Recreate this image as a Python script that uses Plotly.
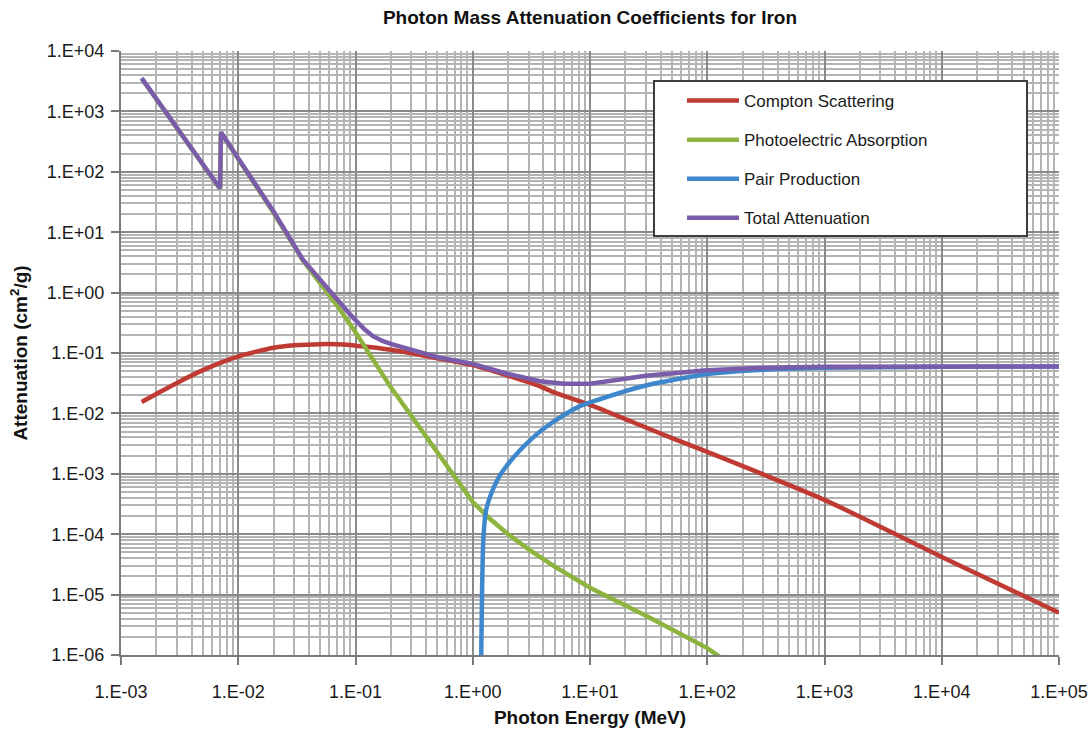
import plotly.graph_objects as go

# ---------------- data ----------------
compton_E = [0.0015, 0.002, 0.003, 0.005, 0.01, 0.02, 0.03, 0.05, 0.08, 0.1, 0.15,
             0.2, 0.3, 0.5, 1.0, 2.0, 3.75, 5.0, 10.0, 23.0, 50.0, 100.0, 1000.0, 1.0e4, 1.0e5]
compton_mu = [0.0155, 0.021, 0.032, 0.052, 0.088, 0.122, 0.134, 0.140, 0.138, 0.132, 0.122,
              0.113, 0.099, 0.082, 0.063, 0.042, 0.028, 0.022, 0.0138, 0.0072, 0.0039,
              0.0023, 3.7e-4, 4.2e-5, 5.0e-6]

photo_E = [0.0015, 0.003, 0.005, 0.007, 0.00712, 0.01, 0.02, 0.0356, 0.05, 0.074, 0.1,
           0.12, 0.141, 0.2, 0.275, 0.38, 0.526, 0.75, 1.0, 1.4, 2.0, 3.0, 5.0, 10.0,
           30.6, 100.0, 120.0, 150.0]
photo_mu = [3500, 530, 132, 52, 445, 162, 21, 3.4, 1.45, 0.52, 0.22,
            0.127, 0.076, 0.027, 0.0115, 0.0048, 0.0019, 7.5e-4, 3.4e-4, 1.8e-4, 1.0e-4,
            5.6e-5, 2.9e-5, 1.3e-5, 4.4e-6, 1.3e-6, 1.0e-6, 7.5e-7]

pair_E = [1.18, 1.2, 1.23, 1.3, 1.49, 1.71, 2.0, 2.53, 3.0, 3.75, 5.0, 8.2, 10.0,
          30.0, 100.0, 300.0, 1000.0, 1.0e4, 1.0e5]
pair_mu = [9e-7, 1.0e-5, 8.0e-5, 2.5e-4, 5.6e-4, 9.5e-4, 1.45e-3, 2.45e-3, 3.4e-3, 5.0e-3,
           7.5e-3, 0.0132, 0.0152, 0.029, 0.045, 0.053, 0.057, 0.059, 0.060]

total_E = [0.0015, 0.003, 0.005, 0.007, 0.00712, 0.01, 0.02, 0.0356, 0.05, 0.06, 0.074,
           0.087, 0.1, 0.12, 0.141, 0.17, 0.2, 0.3, 0.5, 1.0, 2.0, 3.75, 6.0, 10.0, 17.0,
           30.0, 100.0, 300.0, 1000.0, 1.0e4, 1.0e5]
total_mu = [3550, 540, 134, 53, 450, 165, 22, 3.5, 1.6, 1.05, 0.66,
            0.47, 0.35, 0.245, 0.19, 0.158, 0.142, 0.112, 0.085, 0.066, 0.045, 0.034,
            0.031, 0.031, 0.036, 0.042, 0.052, 0.057, 0.059, 0.060, 0.060]

x_ticks = [1e-3, 1e-2, 1e-1, 1e0, 1e1, 1e2, 1e3, 1e4, 1e5]
x_ticktext = ["1.E-03", "1.E-02", "1.E-01", "1.E+00", "1.E+01", "1.E+02", "1.E+03", "1.E+04", "1.E+05"]
y_ticks = [1e-6, 1e-5, 1e-4, 1e-3, 1e-2, 1e-1, 1e0, 1e1, 1e2, 1e3, 1e4]
y_ticktext = ["1.E-06", "1.E-05", "1.E-04", "1.E-03", "1.E-02", "1.E-01", "1.E+00",
              "1.E+01", "1.E+02", "1.E+03", "1.E+04"]

series_names = ["Compton Scattering", "Photoelectric Absorption", "Pair Production", "Total Attenuation"]
series_colors = ["#BF3A33", "#8DB43F", "#3E87CC", "#7A5CAA"]

FONT = "Liberation Sans, Arial, Helvetica, sans-serif"

fig = go.Figure()
data = [(compton_E, compton_mu, "spline"), (photo_E, photo_mu, "linear"),
        (pair_E, pair_mu, "spline"), (total_E, total_mu, "linear")]
for (xe, ym, shp), nm, col in zip(data, series_names, series_colors):
    line = dict(color=col, width=4.5, shape=shp)
    if shp == "spline":
        line["smoothing"] = 0.6
    fig.add_trace(go.Scatter(x=xe, y=ym, mode="lines", name=nm, legendgroup=nm, line=line))

minor_x = [k * 10.0 ** e for e in range(-3, 5) for k in range(2, 10)]
minor_y = [k * 10.0 ** e for e in range(-6, 4) for k in range(2, 10)]

axis_common = dict(
    type="log", showline=True, linecolor="#7a7a7a", linewidth=2,
    ticks="outside", ticklen=8, tickwidth=2, tickcolor="#7a7a7a",
    showgrid=True, gridcolor="#8a8a8a", gridwidth=2,
    zeroline=False, tickfont=dict(family=FONT, size=18, color="#1a1a1a"),
    title_font=dict(family=FONT, size=19, color="#111111"),
)

fig.update_xaxes(
    **axis_common, range=[-3, 5], tickmode="array", tickvals=x_ticks, ticktext=x_ticktext,
    minor=dict(tickmode="array", tickvals=minor_x, showgrid=True, gridcolor="#b4b4b4",
               gridwidth=1.8, ticks=""),
    title=dict(text="<b>Photon Energy (MeV)</b>", standoff=10),
    ticklabelstandoff=11, ticklabeloverflow="allow",
)
fig.update_yaxes(
    **axis_common, range=[-6, 4], tickmode="array", tickvals=y_ticks, ticktext=y_ticktext,
    minor=dict(tickmode="array", tickvals=minor_y, showgrid=True, gridcolor="#b4b4b4",
               gridwidth=1.8, ticks=""),
    title=dict(text="<b>Attenuation (cm<sup>2</sup>/g)</b>", standoff=14),
    ticklabelstandoff=3, ticklabeloverflow="allow",
)

fig.update_layout(
    width=1089, height=734,
    margin=dict(l=121, r=30, t=51, b=79, autoexpand=False),
    paper_bgcolor="white", plot_bgcolor="white",
    title=dict(text="<b>Photon Mass Attenuation Coefficients for Iron</b>",
               x=0.5, xref="paper", xanchor="center",
               y=1 - 17 / 734, yref="container", yanchor="middle",
               font=dict(family=FONT, size=19, color="#111111")),
    legend=dict(
        x=(682 - 121) / 938, y=(655 - 83) / 604, xanchor="left", yanchor="top",
        bgcolor="rgba(0,0,0,0)", borderwidth=0,
        font=dict(family=FONT, size=17, color="#1a1a1a"),
        traceorder="grouped", tracegroupgap=14, itemwidth=52,
    ),
    shapes=[dict(type="rect", xref="paper", yref="paper",
                 x0=(654 - 121) / 938, x1=(1027 - 121) / 938,
                 y0=(655 - 236) / 604, y1=(655 - 81) / 604,
                 fillcolor="white", line=dict(color="#3d3d3d", width=2), layer="above")],
    showlegend=True,
)

fig.write_html("out.html")
